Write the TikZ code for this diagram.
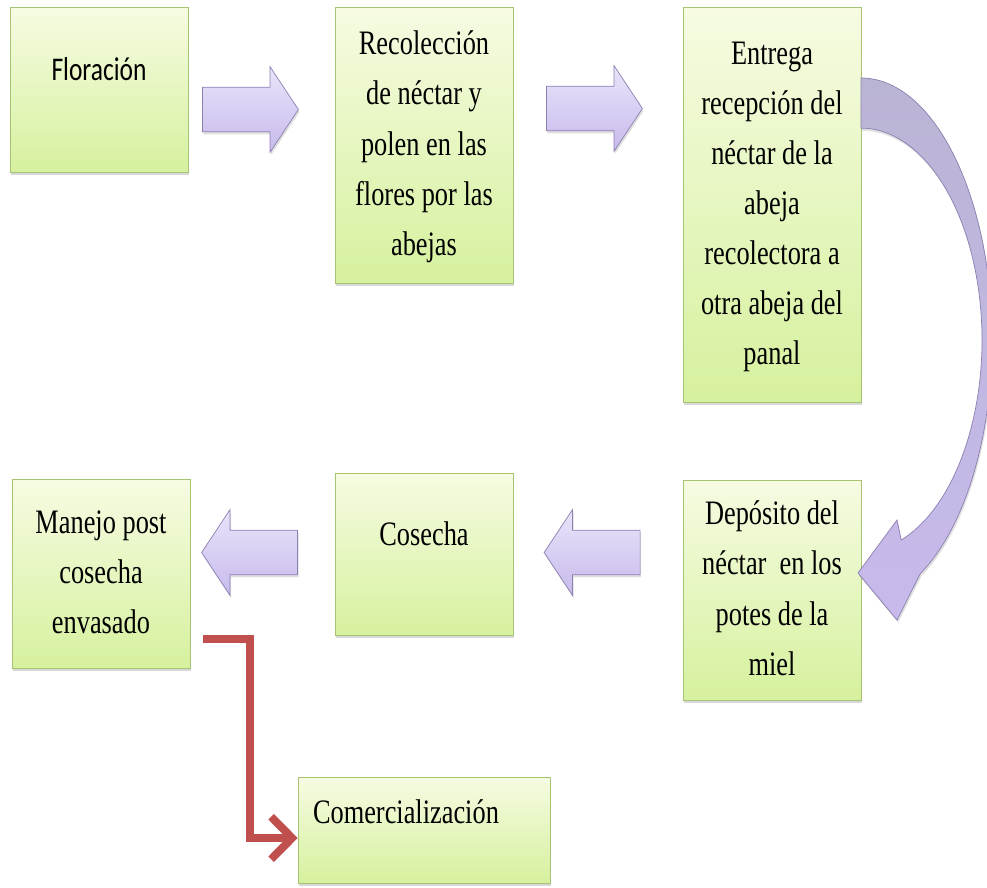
\documentclass[tikz,border=0pt]{standalone}
\usepackage{fontspec}
\setmainfont{Liberation Serif}
\newfontfamily\calibri{Carlito}
\usepackage{graphicx}
\usetikzlibrary{shapes.arrows, shadows, calc, arrows.meta}

\definecolor{cajaArriba}{RGB}{246,251,226}
\definecolor{cajaAbajo}{RGB}{214,241,158}
\definecolor{cajaBorde}{RGB}{165,195,115}
\definecolor{lilaArriba}{RGB}{234,228,250}
\definecolor{lilaAbajo}{RGB}{200,186,236}
\definecolor{lilaBorde}{RGB}{140,128,178}
\definecolor{lilaCurva}{RGB}{186,180,212}
\definecolor{rojoFlecha}{RGB}{192,80,77}

\newcommand{\alto}[1]{\scalebox{1}[1.3]{\begin{tabular}{@{}c@{}}#1\end{tabular}}}

\tikzset{
    caja/.style={draw=cajaBorde, top color=cajaArriba, bottom color=cajaAbajo,
        minimum width=3.56cm, inner sep=0pt, font=\fontsize{15}{21.9}\selectfont,
        drop shadow={shadow xshift=0.6pt, shadow yshift=-1.8pt, opacity=0.3}},
    flecha/.style={single arrow, draw=lilaBorde, top color=lilaArriba, bottom color=lilaAbajo,
        minimum height=1.92cm, inner xsep=0pt, inner ysep=0.44cm,
        single arrow head extend=0.41cm, single arrow tip angle=113,
        drop shadow={shadow xshift=0.6pt, shadow yshift=-1.5pt, opacity=0.25}},
    curva/.style={draw=lilaBorde, top color=lilaCurva, bottom color=lilaAbajo,
        drop shadow={shadow xshift=0.6pt, shadow yshift=-1.5pt, opacity=0.25}},
    rojo/.style={draw=rojoFlecha, line width=4.5pt,
        -{Straight Barb[length=0.42cm, width=0.85cm]}}
}

\begin{document}
\begin{tikzpicture}[x=0.02cm, y=-0.02cm]
    \useasboundingbox[fill=white] (0,0) rectangle (987,888);

    % cajas de arriba
    \node[caja, minimum height=3.3cm, font=\calibri\fontsize{14.5}{20}\selectfont, text depth=29pt]
        (flor) at (99,89.5) {\alto{Floración}};
    \node[caja, minimum height=5.52cm] (recol) at (424,145)
        {\alto{Recolección\\de néctar y\\polen en las\\flores por las\\abejas}};
    \node[caja, minimum height=7.9cm] (entrega) at (772,204.5)
        {\alto{Entrega\\recepción del\\néctar de la\\abeja\\recolectora a\\otra abeja del\\panal}};

    % cajas de abajo
    \node[caja, minimum height=4.4cm] (deposito) at (772,590)
        {\alto{Depósito del\\néctar~ en los\\potes de la\\miel}};
    \node[caja, minimum height=3.24cm, text depth=31pt] (cosecha) at (424,554) {\alto{Cosecha}};
    \node[caja, minimum height=3.78cm] (manejo) at (101,573.5)
        {\alto{Manejo post\\cosecha\\envasado}};
    \node[caja, minimum width=5.04cm, minimum height=2.12cm, text width=4.44cm, align=left,
        inner xsep=0.3cm, text depth=28.7pt] (comer) at (424,830) {\alto{Comercialización}};

    % flechas gruesas
    \node[flecha] (f1) at (243,109.5) {};
    \node[flecha] (f2) at (587,108.5) {};
    \node[flecha, shape border rotate=180] (f3) at (599.5,552.5) {};
    \node[flecha, shape border rotate=180] (f4) at (257,552.5) {};

    % flecha curva
    \path[curva] (861,78) arc[start angle=90, end angle=-63, x radius=2.62cm, y radius=5.24cm]
        -- (897,620) -- (858,573) -- (897,520) -- (901.2,540)
        arc[start angle=-70.6, end angle=90, x radius=2.42cm, y radius=4.24cm] -- cycle;

    % conector rojo
    \coordinate (rojoIni) at ($(manejo.south east)+(13,-29)$);
    \draw[rojo] (rojoIni) -- ++(47,0) |- ($(comer.west)+(0,8)$);
\end{tikzpicture}
\end{document}
